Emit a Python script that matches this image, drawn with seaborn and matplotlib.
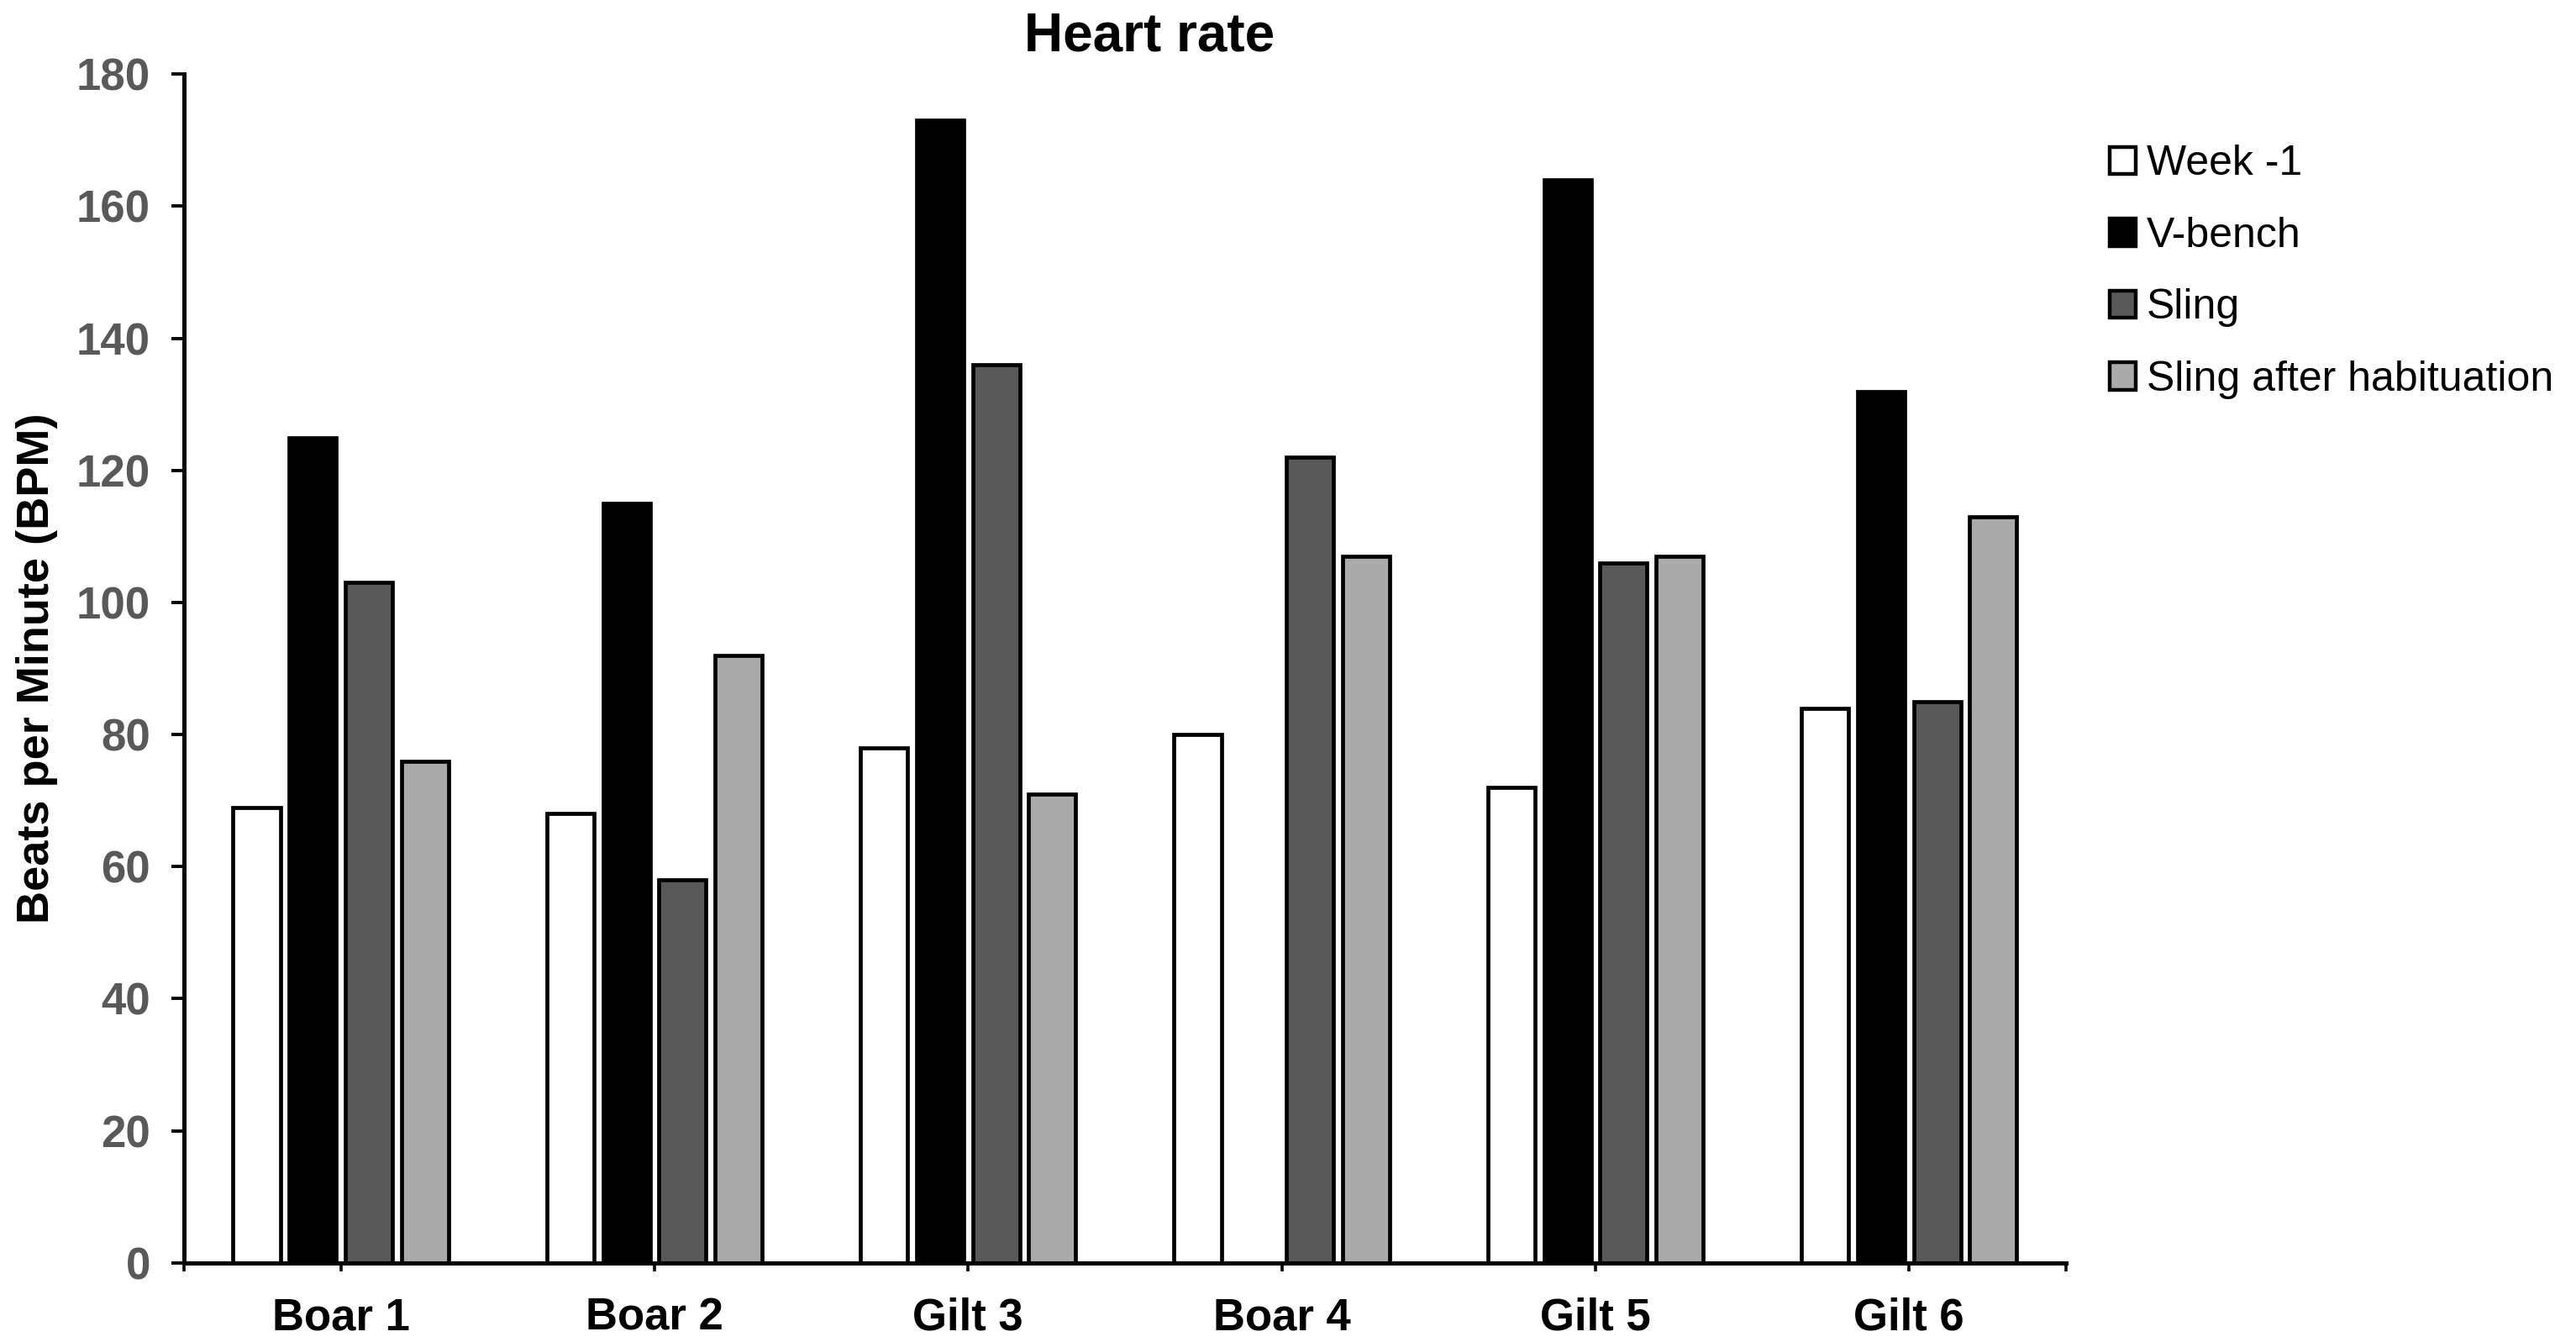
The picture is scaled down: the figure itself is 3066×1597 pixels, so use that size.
import numpy as np
import pandas as pd
import matplotlib
matplotlib.use("Agg")
import matplotlib.pyplot as plt
import matplotlib.patches as mpatches
import seaborn as sns

# data
animals = ["Boar 1", "Boar 2", "Gilt 3", "Boar 4", "Gilt 5", "Gilt 6"]
conditions = ["Week -1", "V-bench", "Sling", "Sling after habituation"]
week_minus1 = [69, 68, 78, 80, 72, 84]
v_bench = [125, 115, 173, np.nan, 164, 132]
sling = [103, 58, 136, 122, 106, 85]
sling_habituated = [76, 92, 71, 107, 107, 113]
y_ticks = [0, 20, 40, 60, 80, 100, 120, 140, 160, 180]

colors = {"Week -1": "#FFFFFF", "V-bench": "#000000",
          "Sling": "#595959", "Sling after habituation": "#AAAAAA"}

rows = []
for cond, vals in zip(conditions, [week_minus1, v_bench, sling, sling_habituated]):
    for animal, v in zip(animals, vals):
        rows.append({"animal": animal, "condition": cond, "bpm": v})
df = pd.DataFrame(rows).dropna()

sns.set_style("ticks")
plt.rcParams['font.family'] = ['Liberation Sans', 'DejaVu Sans']
plt.rcParams['text.color'] = 'black'
plt.rcParams['axes.labelcolor'] = 'black'
plt.rcParams['xtick.color'] = 'black'
plt.rcParams['ytick.color'] = 'black'

fig = plt.figure(figsize=(15.33, 7.985), dpi=200)
ax = fig.add_axes([0.0714, 0.059, 0.7306, 0.8857])

sns.barplot(data=df, x="animal", y="bpm", hue="condition",
            order=animals, hue_order=conditions, palette=colors,
            width=0.715, gap=0.16, errorbar=None, legend=False,
            edgecolor="black", linewidth=1.7, saturation=1, ax=ax)

ax.set_ylim(0, 180)
ax.set_xlim(-0.5, len(animals) - 0.5)
ax.set_yticks(y_ticks)
ax.set_xticks([-0.5, len(animals) - 0.5], minor=True)

for side in ["top", "right"]:
    ax.spines[side].set_visible(False)
for side in ["left", "bottom"]:
    ax.spines[side].set_linewidth(1.8)
    ax.spines[side].set_color("black")

ax.tick_params(axis="y", which="major", direction="out", length=5.4, width=1.4,
               pad=9, labelsize=19, labelcolor="#595959")
ax.tick_params(axis="x", which="both", direction="out", length=3.5, width=1.3,
               pad=11, labelsize=19)
for lab in ax.get_yticklabels():
    lab.set_fontweight("bold")
for lab in ax.get_xticklabels():
    lab.set_fontweight("bold")

ax.set_xlabel("")
ax.set_ylabel("Beats per Minute (BPM)", fontsize=19.5, fontweight="bold", labelpad=8)
ax.set_title("Heart rate", fontsize=23, fontweight="bold", x=0.513, pad=10)

handles = [mpatches.Patch(facecolor=colors[c], edgecolor="black", linewidth=1.6, label=c)
           for c in conditions]
fig.legend(handles=handles, loc="upper left", bbox_to_anchor=(0.819, 0.892),
           frameon=False, fontsize=18, handlelength=0.62, handleheight=0.62,
           handletextpad=0.25, labelspacing=0.79, borderpad=0, borderaxespad=0)

fig.savefig("out.png", dpi=200, facecolor="white")
